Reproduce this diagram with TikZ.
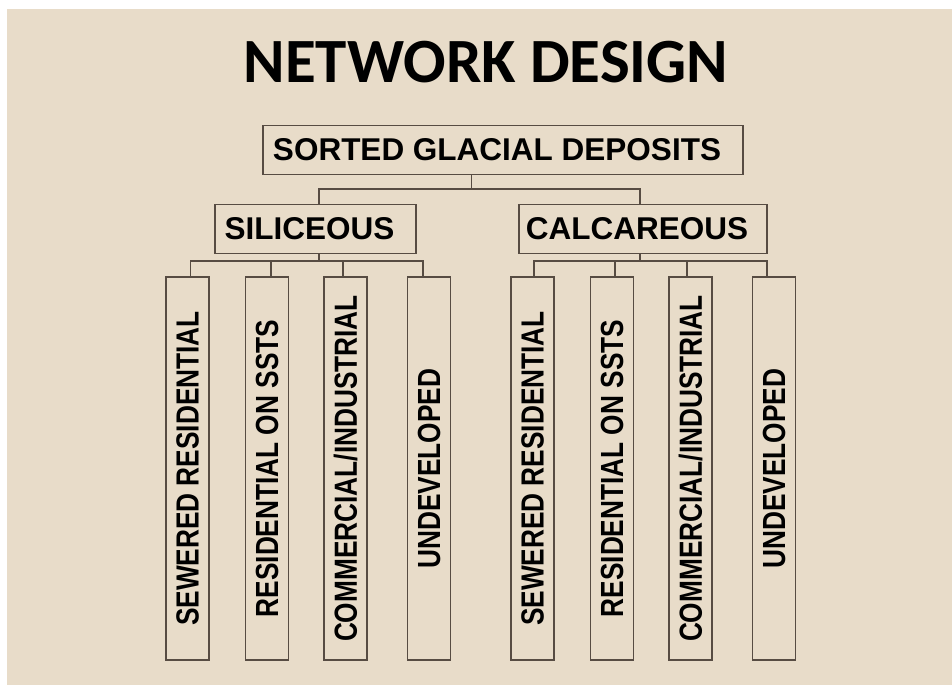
\documentclass[tikz,border=0pt]{standalone}
\usepackage{fontspec}
\usepackage{graphicx}
\setmainfont{Liberation Sans}
\newfontfamily\titlefont{Carlito}
\usetikzlibrary{positioning}

\definecolor{slidebg}{HTML}{E8DCC9}
\definecolor{boxline}{HTML}{574C43}

\tikzset{
  headline/.style={font=\titlefont\bfseries\fontsize{63}{70}\selectfont, inner sep=0pt},
  catbox/.style={draw=boxline, line width=1.3, minimum height=49,
    inner sep=0pt, font=\bfseries\fontsize{31.5}{36}\selectfont,
    execute at end node={\kern12pt}},
  leafbox/.style={draw=boxline, line width=1.3, minimum width=43,
    minimum height=383, inner sep=0pt, font=\bfseries\fontsize{32}{36}\selectfont},
  link/.style={draw=boxline, line width=1.2}
}
\newcommand{\leaftext}[1]{\rotatebox{90}{\scalebox{0.82}[1]{#1}}}

\begin{document}
\begin{tikzpicture}[x=1pt, y=-1pt]

  % Slide background
  \useasboundingbox (0,0) rectangle (952,685);
  \fill[white] (0,0) rectangle (952,685);
  \fill[slidebg] (7,9) rectangle (952,685);

  % Define nodes
  \node[headline] (title) at (486,62) {NETWORK DESIGN};
  \node[catbox, minimum width=480] (sgd) at (503,150) {SORTED GLACIAL DEPOSITS};
  \node[catbox, minimum width=201] (sil) at (315.5,229) {SILICEOUS};
  \node[catbox, minimum width=248] (cal) at (643,229) {CALCAREOUS};

  \node[leafbox] (s1) at (187.5,468.5) {\leaftext{SEWERED RESIDENTIAL}};
  \node[leafbox] (s2) at (267,468.5)   {\leaftext{RESIDENTIAL ON SSTS}};
  \node[leafbox] (s3) at (345.5,468.5) {\leaftext{COMMERCIAL/INDUSTRIAL}};
  \node[leafbox] (s4) at (429,468.5)   {\leaftext{UNDEVELOPED}};

  \node[leafbox] (c1) at (532.5,468.5) {\leaftext{SEWERED RESIDENTIAL}};
  \node[leafbox] (c2) at (612,468.5)   {\leaftext{RESIDENTIAL ON SSTS}};
  \node[leafbox] (c3) at (690.5,468.5) {\leaftext{COMMERCIAL/INDUSTRIAL}};
  \node[leafbox] (c4) at (774,468.5)   {\leaftext{UNDEVELOPED}};

  % Bus points
  \coordinate (bustop) at (471.5,189);
  \coordinate (busS) at (319,261);
  \coordinate (busC) at (640,261);

  % Connect the nodes
  \draw[link] ([xshift=-31.5]sgd.south) -- (bustop);
  \draw[link] ([xshift=3.5]sil.north) |- (bustop) -| ([xshift=-3]cal.north);
  \draw[link] ([xshift=3.5]sil.south) -- (busS);
  \draw[link] ([xshift=-3]cal.south) -- (busC);
  \foreach \n/\dx in {s1/3.2, s2/4, s3/-2.5, s4/-6}
    \draw[link] (busS) -| ([xshift=\dx]\n.north);
  \foreach \n/\dx in {c1/1.5, c2/3, c3/-3.5, c4/-7}
    \draw[link] (busC) -| ([xshift=\dx]\n.north);

\end{tikzpicture}
\end{document}
